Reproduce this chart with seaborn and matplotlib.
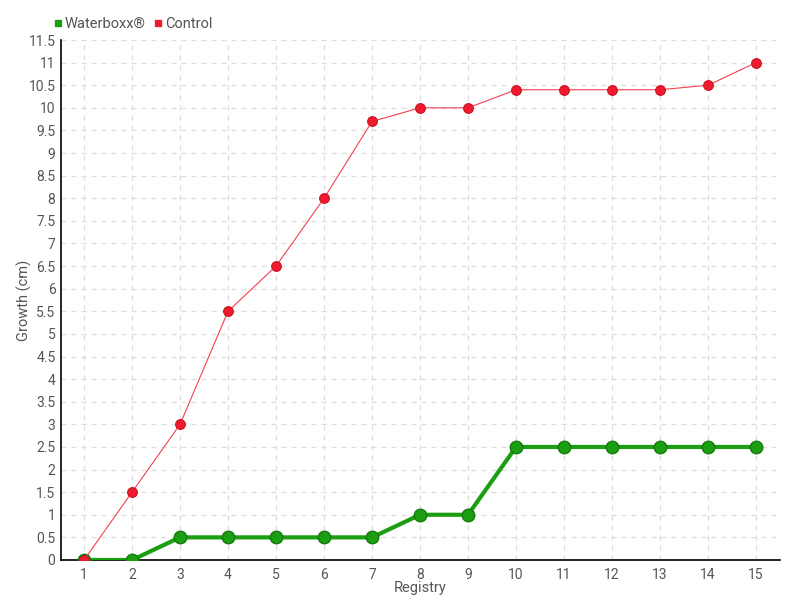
import matplotlib
matplotlib.use("Agg")
import matplotlib.pyplot as plt
import seaborn as sns
import pandas as pd
from matplotlib.lines import Line2D

registry = list(range(1, 16))
waterboxx = [0, 0, 0.5, 0.5, 0.5, 0.5, 0.5, 1, 1, 2.5, 2.5, 2.5, 2.5, 2.5, 2.5]
control = [0, 1.5, 3, 5.5, 6.5, 8, 9.7, 10, 10, 10.4, 10.4, 10.4, 10.4, 10.5, 11]
y_ticks = [i * 0.5 for i in range(24)]

sns.set_theme(style="white")
plt.rcParams['font.family'] = ['Roboto', 'DejaVu Sans']

df = pd.DataFrame({"Registry": registry, "Waterboxx": waterboxx, "Control": control})

fig = plt.figure(figsize=(8, 6), dpi=100)
ax = fig.add_axes([0.07625, 0.0667, 0.8988, 0.8666])

green = "#1c9e12"
red = "#ee1c2e"

sns.lineplot(data=df, x="Registry", y="Waterboxx", ax=ax, color=green, linewidth=3.0,
             marker="o", markersize=9, markeredgecolor="#137a0c", markeredgewidth=1.0, zorder=3)
sns.lineplot(data=df, x="Registry", y="Control", ax=ax, color="#f2404f", linewidth=0.8,
             marker="o", markersize=7, markerfacecolor=red, markeredgecolor="#d01020",
             markeredgewidth=0.8, zorder=4)

ax.set_xlim(0.52, 15.5)
ax.set_ylim(0, 11.5)
ax.set_xticks(registry)
ax.set_xticklabels([str(r) for r in registry])
ax.set_yticks(y_ticks)
ax.set_yticklabels([f"{v:g}" for v in y_ticks])

ax.grid(True, color="#dddddd", linestyle=(0, (4, 4)), linewidth=0.9)
ax.set_axisbelow(True)
for s in ["top", "right"]:
    ax.spines[s].set_visible(False)
for s in ["left", "bottom"]:
    ax.spines[s].set_color("black")
    ax.spines[s].set_linewidth(1.2)

ax.tick_params(axis="both", colors="black", labelcolor="#555555", labelsize=10, length=5,
               width=1.2, direction="out", pad=1)
ax.tick_params(axis="y", direction="inout", length=6)

ax.set_xlabel("Registry", fontsize=10.5, color="#555555")
ax.set_ylabel("Growth (cm)", fontsize=10.5, color="#555555")
ax.yaxis.set_label_coords(-0.041, 0.5)
ax.xaxis.set_label_coords(0.5, -0.04)

handles = [Line2D([], [], linestyle="none", marker="s", markersize=5, color=green),
           Line2D([], [], linestyle="none", marker="s", markersize=5, color=red)]
fig.legend(handles, ["Waterboxx®", "Control"], loc="upper left", bbox_to_anchor=(0.052, 0.993),
           frameon=False, ncol=2, fontsize=10.5, handlelength=0.5, handletextpad=0.2,
           columnspacing=0.6, labelcolor="#555555")

fig.savefig("out.png", dpi=100)
